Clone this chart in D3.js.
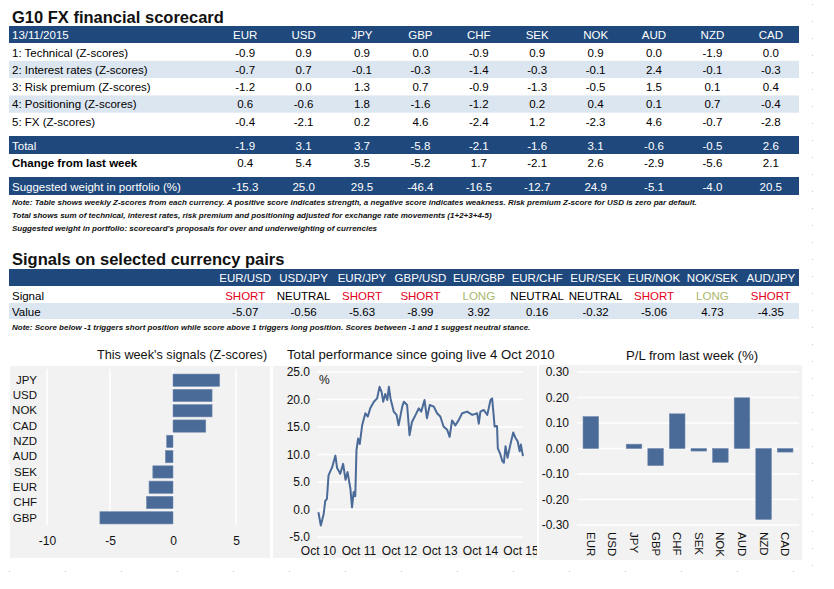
<!DOCTYPE html>
<html>
<head>
<meta charset="utf-8">
<script src="https://cdn.jsdelivr.net/npm/d3@7"></script>
<style>
  html, body { margin: 0; padding: 0; background: #fff; }
  svg { display: block; font-family: "Liberation Sans", Arial, sans-serif; }
</style>
</head>
<body>
<svg id="chart" width="834" height="589"></svg>
<script>
// ---------------- DATA ----------------
const currencies = ["EUR","USD","JPY","GBP","CHF","SEK","NOK","AUD","NZD","CAD"];
const scoreLabels = ["1: Technical (Z-scores)","2: Interest rates (Z-scores)","3: Risk premium (Z-scores)","4: Positioning (Z-scores)","5: FX (Z-scores)"];
const technical     = [-0.9, 0.9, 0.9, 0.0,-0.9, 0.9, 0.9, 0.0,-1.9, 0.0];
const interestRates = [-0.7, 0.7,-0.1,-0.3,-1.4,-0.3,-0.1, 2.4,-0.1,-0.3];
const riskPremium   = [-1.2, 0.0, 1.3, 0.7,-0.9,-1.3,-0.5, 1.5, 0.1, 0.4];
const positioning   = [ 0.6,-0.6, 1.8,-1.6,-1.2, 0.2, 0.4, 0.1, 0.7,-0.4];
const fxScores      = [-0.4,-2.1, 0.2, 4.6,-2.4, 1.2,-2.3, 4.6,-0.7,-2.8];
const totals        = [-1.9, 3.1, 3.7,-5.8,-2.1,-1.6, 3.1,-0.6,-0.5, 2.6];
const changes       = [ 0.4, 5.4, 3.5,-5.2, 1.7,-2.1, 2.6,-2.9,-5.6, 2.1];
const weights       = [-15.3,25.0,29.5,-46.4,-16.5,-12.7,24.9,-5.1,-4.0,20.5];

const pairs      = ["EUR/USD","USD/JPY","EUR/JPY","GBP/USD","EUR/GBP","EUR/CHF","EUR/SEK","EUR/NOK","NOK/SEK","AUD/JPY"];
const pairSignals= ["SHORT","NEUTRAL","SHORT","SHORT","LONG","NEUTRAL","NEUTRAL","SHORT","LONG","SHORT"];
const pairValues = [-5.07,-0.56,-5.63,-8.99,3.92,0.16,-0.32,-5.06,4.73,-4.35];

const signalCats = ["JPY","USD","NOK","CAD","NZD","AUD","SEK","EUR","CHF","GBP"];
const signalVals = [3.7,3.1,3.1,2.6,-0.5,-0.6,-1.6,-1.9,-2.1,-5.8];
const signalTicks = [-10,-5,0,5];

const perfYears = [2010.76,2010.82,2010.89,2010.93,2010.97,2011.01,2011.10,2011.18,2011.22,2011.30,
  2011.37,2011.43,2011.48,2011.55,2011.59,2011.63,2011.67,2011.70,2011.74,2011.78,
  2011.84,2011.92,2011.98,2012.04,2012.13,2012.21,2012.27,2012.32,2012.36,2012.41,
  2012.46,2012.50,2012.54,2012.62,2012.69,2012.74,2012.83,2012.87,2012.95,2013.01,
  2013.07,2013.16,2013.24,2013.30,2013.38,2013.44,2013.51,2013.61,2013.69,2013.77,
  2013.85,2013.94,2014.00,2014.06,2014.14,2014.22,2014.31,2014.43,2014.56,2014.68,
  2014.72,2014.76,2014.84,2014.93,2015.01,2015.05,2015.09,2015.11,2015.17,2015.19,
  2015.25,2015.30,2015.34,2015.38,2015.43,2015.50,2015.57,2015.62,2015.68,2015.73,
  2015.76,2015.81];
const perfValues = [-0.5,-2.9,-0.8,1.6,1.9,6.2,7.7,9.8,7.6,6.5,
  8.3,5.4,6.8,3.8,0.4,3.2,2.4,10.8,12.9,11.9,
  15.3,17.5,16.9,18.4,19.6,20.2,22.3,21.4,19.6,21.0,
  19.9,22.3,20.2,17.8,17.2,15.3,18.7,19.6,19.0,13.5,
  15.9,17.2,18.4,17.8,19.9,16.6,19.0,18.7,17.5,16.9,
  15.1,14.5,13.2,16.2,15.3,16.2,17.5,17.8,17.2,17.5,
  15.6,17.8,18.1,17.2,19.9,20.2,16.9,15.1,15.2,11.1,
  10.1,8.8,8.5,11.5,9.4,11.8,14.0,13.1,12.4,10.6,
  11.8,9.7];
const perfTickYears = [2010.75,2011.75,2012.75,2013.75,2014.75,2015.75];
const perfTickLabels = ["Oct 10","Oct 11","Oct 12","Oct 13","Oct 14","Oct 15"];
const perfYTicks = [-5,0,5,10,15,20,25];

const plCats = ["EUR","USD","JPY","GBP","CHF","SEK","NOK","AUD","NZD","CAD"];
const plVals = [0.125,0.0,0.017,-0.067,0.136,-0.010,-0.054,0.199,-0.278,-0.014];
const plTicks = [-0.30,-0.20,-0.10,0.00,0.10,0.20,0.30];

// ---------------- STYLE ----------------
const NAVY = "#1f497d", LIGHT = "#dce6f1", BAR = "#4a6a98", PANEL = "#f2f2f2";
const RED = "#e3001b", GREEN = "#a9b86a";
const FONT = "Liberation Sans, Arial, sans-serif";
const fmt1 = v => (v < 0 ? "-" : "") + Math.abs(v).toFixed(1);
const fmt2 = v => (v < 0 ? "-" : "") + Math.abs(v).toFixed(2);

const svg = d3.select("#chart");
svg.append("rect").attr("width",834).attr("height",589).attr("fill","#fff");

// dotted page guides
svg.append("line").attr("x1",812.5).attr("x2",812.5).attr("y1",4).attr("y2",572)
  .attr("stroke","#c8c8c8").attr("stroke-dasharray","1,16");
svg.append("line").attr("x1",9).attr("x2",812).attr("y1",571.5).attr("y2",571.5)
  .attr("stroke","#c8c8c8").attr("stroke-dasharray","1,55");

// ---------------- TABLE 1 ----------------
const colX = d3.scaleBand().domain(currencies).range([216, 800]);
const cx = c => colX(c) + colX.bandwidth()/2;
const L = 9, R = 799;

svg.append("text").attr("x",12).attr("y",23).attr("font-size",16.5).attr("font-weight","bold")
  .attr("fill","#111").text("G10 FX financial scorecard");

function bandRow(top, h, fill){ svg.append("rect").attr("x",L).attr("y",top).attr("width",R-L).attr("height",h).attr("fill",fill); }
function rowText(label, vals, top, opts){
  const col = opts.color || "#000";
  svg.append("text").attr("x",12).attr("y",top+13).attr("font-size",11.5)
    .attr("font-weight",opts.boldLabel?"bold":"normal").attr("fill",col).text(label);
  svg.append("g").selectAll("text").data(vals).join("text")
    .attr("x",(d,i)=>cx(currencies[i])).attr("y",top+13).attr("text-anchor","middle")
    .attr("font-size",11.5).attr("fill",col).text(d=>typeof d==="number"?fmt1(d):d);
}
bandRow(26,17,NAVY);
rowText("13/11/2015", currencies, 26, {color:"#fff"});
const scoreRows = [technical, interestRates, riskPremium, positioning, fxScores];
scoreRows.forEach((vals,i)=>{
  const top = 43.5 + i*17.3;
  if (i%2===1) bandRow(top,17.3,LIGHT);
  rowText(scoreLabels[i], vals, top, {});
});
bandRow(136,18,NAVY);
rowText("Total", totals, 136.5, {color:"#fff"});
rowText("Change from last week", changes, 154, {boldLabel:true});
bandRow(177,18,NAVY);
rowText("Suggested weight in portfolio (%)", weights, 177.5, {color:"#fff"});

const notes = [
  "Note: Table shows weekly Z-scores from each currency. A positive score indicates strength, a negative score indicates weakness. Risk premium Z-score for USD is zero par default.",
  "Total shows sum of technical, interest rates, risk premium and positioning adjusted for exchange rate movements (1+2+3+4-5)",
  "Suggested weight in portfolio: scorecard's proposals for over and underweighting of currencies"
];
svg.append("g").selectAll("text").data(notes).join("text")
  .attr("x",12).attr("y",(d,i)=>205+i*13).attr("font-size",8).attr("font-style","italic")
  .attr("font-weight","bold").attr("fill","#111").text(d=>d);

// ---------------- TABLE 2 ----------------
svg.append("text").attr("x",12).attr("y",265).attr("font-size",16.5).attr("font-weight","bold")
  .attr("fill","#111").text("Signals on selected currency pairs");
bandRow(269,17,NAVY);
svg.append("g").selectAll("text").data(pairs).join("text")
  .attr("x",(d,i)=>cx(currencies[i])).attr("y",282).attr("text-anchor","middle")
  .attr("font-size",11.5).attr("fill","#fff").text(d=>d);
svg.append("text").attr("x",12).attr("y",300).attr("font-size",11.5).text("Signal");
svg.append("g").selectAll("text").data(pairSignals).join("text")
  .attr("x",(d,i)=>cx(currencies[i])).attr("y",300).attr("text-anchor","middle")
  .attr("font-size",11.5).attr("fill",d=>d==="SHORT"?RED:(d==="LONG"?GREEN:"#000")).text(d=>d);
bandRow(303,16,LIGHT);
svg.append("text").attr("x",12).attr("y",315.5).attr("font-size",11.5).text("Value");
svg.append("g").selectAll("text").data(pairValues).join("text")
  .attr("x",(d,i)=>cx(currencies[i])).attr("y",315.5).attr("text-anchor","middle")
  .attr("font-size",11.5).text(d=>fmt2(d));
svg.append("text").attr("x",12).attr("y",330).attr("font-size",8).attr("font-style","italic")
  .attr("font-weight","bold").attr("fill","#111")
  .text("Note: Score below -1 triggers short position while score above 1 triggers long position. Scores between -1 and 1 suggest neutral stance.");

// ---------------- PANEL 1: signals bar chart ----------------
const p1 = svg.append("g");
p1.append("rect").attr("x",10).attr("y",366).attr("width",260).attr("height",192).attr("fill",PANEL);
p1.append("text").attr("x",182).attr("y",359).attr("text-anchor","middle").attr("font-size",12.7).attr("fill","#111")
  .text("This week's signals (Z-scores)");
const sx = d3.scaleLinear().domain([-10,5]).range([47,236]);
const sy = d3.scaleBand().domain(signalCats).range([371,527]).padding(0.2);
p1.append("g").selectAll("line").data(signalTicks).join("line")
  .attr("x1",d=>sx(d)).attr("x2",d=>sx(d)).attr("y1",369).attr("y2",525)
  .attr("stroke","#fff").attr("stroke-width",1.5);
p1.append("g").selectAll("rect").data(signalVals).join("rect")
  .attr("x",d=>sx(Math.min(0,d))).attr("width",d=>Math.abs(sx(d)-sx(0)))
  .attr("y",(d,i)=>sy(signalCats[i])).attr("height",sy.bandwidth())
  .attr("fill",BAR).attr("stroke","#6f88ad").attr("stroke-width",0.6);
const ax1 = p1.append("g").attr("transform","translate(0,530)")
  .call(d3.axisBottom(sx).tickValues(signalTicks).tickSize(0).tickPadding(6).tickFormat(d=>d<0?"-"+Math.abs(d):d));
ax1.select(".domain").remove();
ax1.selectAll("text").attr("font-size",12).attr("font-family",FONT).attr("fill","#111");
const ay1 = p1.append("g").attr("transform","translate(39,0)")
  .call(d3.axisLeft(sy).tickSize(0).tickPadding(2));
ay1.select(".domain").remove();
ay1.selectAll("text").attr("font-size",11.5).attr("font-family",FONT).attr("fill","#111");

// ---------------- PANEL 2: performance line ----------------
const p2 = svg.append("g");
p2.append("rect").attr("x",273).attr("y",366).attr("width",264).attr("height",192).attr("fill",PANEL);
const px = d3.scaleLinear().domain([2010.75,2015.75]).range([318,520.5]);
const py = d3.scaleLinear().domain([-5,25]).range([537,372]);
p2.append("g").selectAll("line").data(perfYTicks).join("line")
  .attr("x1",317).attr("x2",523).attr("y1",d=>py(d)).attr("y2",d=>py(d))
  .attr("stroke","#fff").attr("stroke-width",1.5);
const ay2 = p2.append("g").attr("transform","translate(310,0)")
  .call(d3.axisLeft(py).tickValues(perfYTicks).tickSize(0).tickPadding(0).tickFormat(d=>fmt1(d)));
ay2.select(".domain").remove();
ay2.selectAll("text").attr("font-size",12).attr("font-family",FONT).attr("fill","#111");
p2.append("text").attr("x",319).attr("y",384).attr("font-size",12).attr("fill","#111").text("%");
const perf = perfYears.map((y,i)=>({x:y, v:perfValues[i]}));
p2.append("path").datum(perf).attr("fill","none").attr("stroke",BAR).attr("stroke-width",2)
  .attr("stroke-linejoin","round")
  .attr("d",d3.line().x(d=>px(d.x)).y(d=>py(d.v)));
svg.append("clipPath").attr("id","clip2").append("rect").attr("x",273).attr("y",542).attr("width",264).attr("height",20);
const ax2 = p2.append("g").attr("clip-path","url(#clip2)").append("g").attr("transform","translate(0,546)")
  .call(d3.axisBottom(px).tickValues(perfTickYears).tickSize(0).tickPadding(0)
    .tickFormat((d,i)=>perfTickLabels[i]));
ax2.select(".domain").remove();
ax2.selectAll("text").attr("font-size",12).attr("font-family",FONT).attr("fill","#111");
p2.append("text").attr("x",287).attr("y",359).attr("font-size",13.2).attr("fill","#111")
  .text("Total performance since going live 4 Oct 2010");

// ---------------- PANEL 3: P/L bars ----------------
const p3 = svg.append("g");
p3.append("rect").attr("x",539).attr("y",365).attr("width",263).attr("height",195).attr("fill",PANEL);
const qx = d3.scaleBand().domain(plCats).range([577,799]).padding(0.28);
const qy = d3.scaleLinear().domain([-0.3,0.3]).range([525,372]);
p3.append("g").selectAll("line").data(plTicks).join("line")
  .attr("x1",577).attr("x2",799).attr("y1",d=>qy(d)).attr("y2",d=>qy(d))
  .attr("stroke","#fff").attr("stroke-width",1.5);
p3.append("g").selectAll("rect").data(plVals).join("rect")
  .attr("x",(d,i)=>qx(plCats[i])).attr("width",qx.bandwidth())
  .attr("y",d=>qy(Math.max(0,d))).attr("height",d=>Math.abs(qy(d)-qy(0)))
  .attr("fill",BAR).attr("stroke","#6f88ad").attr("stroke-width",0.6);
const ay3 = p3.append("g").attr("transform","translate(569,0)")
  .call(d3.axisLeft(qy).tickValues(plTicks).tickSize(0).tickPadding(0).tickFormat(d=>fmt2(d)));
ay3.select(".domain").remove();
ay3.selectAll("text").attr("font-size",12).attr("font-family",FONT).attr("fill","#111");
p3.append("g").selectAll("text").data(plCats).join("text")
  .attr("transform",d=>`translate(${qx(d)+qx.bandwidth()/2},532) rotate(90)`)
  .attr("dy","0.35em").attr("font-size",11.5).attr("fill","#111").text(d=>d);
p3.append("text").attr("x",692).attr("y",360).attr("text-anchor","middle").attr("font-size",13.2).attr("fill","#111")
  .text("P/L from last week (%)");
</script>
</body>
</html>
